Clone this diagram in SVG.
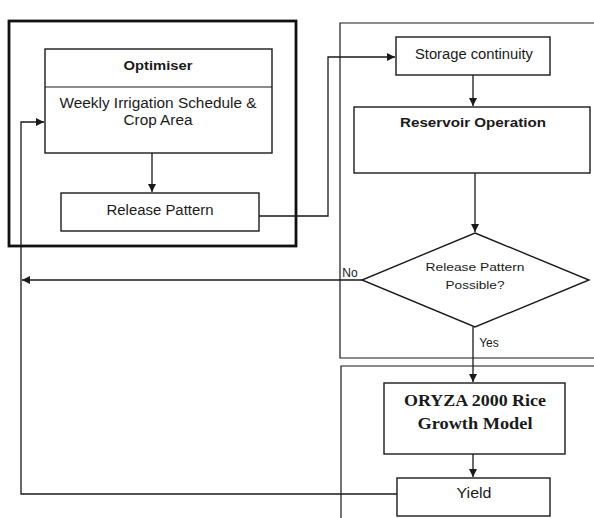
<svg xmlns="http://www.w3.org/2000/svg" width="594" height="518" viewBox="0 0 594 518">
  <style>
    .box { fill: #ffffff; stroke: #1a1a1a; stroke-width: 1.4; }
    .frame { fill: none; stroke: #1a1a1a; stroke-width: 1.2; }
    .thick { fill: none; stroke: #111111; stroke-width: 2.8; }
    .wire { fill: none; stroke: #1a1a1a; stroke-width: 1.3; }
    .t { font-family: "Liberation Sans", Arial, sans-serif; fill: #1a1a1a; text-anchor: middle; }
    .b { font-weight: bold; }
    .serif { font-family: "Liberation Serif", "Times New Roman", serif; }
  </style>
  <defs>
    <marker id="arrow" viewBox="0 0 10 10" refX="10" refY="5" markerWidth="8" markerHeight="8" markerUnits="userSpaceOnUse" orient="auto">
      <path d="M0,0 L10,5 L0,10 Z" fill="#1a1a1a"/>
    </marker>
  </defs>
  <rect width="594" height="518" fill="#ffffff"/>

  <!-- group frames -->
  <g id="frames">
    <rect class="thick" x="9" y="21" width="287" height="225"/>
    <path class="frame" d="M600,23 H340 V358 H600"/>
    <path class="frame" d="M600,366 H341 V520"/>
  </g>

  <!-- connectors -->
  <g id="connectors">
    <line class="wire" x1="152" y1="153" x2="152" y2="192" marker-end="url(#arrow)"/>
    <polyline class="wire" points="259,216 328,216 328,57 395,57" marker-end="url(#arrow)"/>
    <line class="wire" x1="473" y1="75" x2="473" y2="106" marker-end="url(#arrow)"/>
    <line class="wire" x1="475" y1="173" x2="475" y2="232" marker-end="url(#arrow)"/>
    <line class="wire" x1="362" y1="280" x2="22" y2="280" marker-end="url(#arrow)"/>
    <line class="wire" x1="473" y1="327" x2="473" y2="382" marker-end="url(#arrow)"/>
    <line class="wire" x1="473" y1="454" x2="473" y2="477" marker-end="url(#arrow)"/>
    <polyline class="wire" points="397,494 21,494 21,122 44,122" marker-end="url(#arrow)"/>
    <text class="t" x="350" y="277" font-size="12">No</text>
    <text class="t" x="489" y="347" font-size="12">Yes</text>
  </g>

  <g id="optimiser">
    <rect class="box" x="45" y="49" width="227" height="104"/>
    <line x1="45" y1="87" x2="272" y2="87" stroke="#1a1a1a" stroke-width="1.2"/>
    <text class="t b" x="158" y="70" font-size="13.5" textLength="69" lengthAdjust="spacingAndGlyphs">Optimiser</text>
    <text class="t" x="158" y="108" font-size="14" textLength="197" lengthAdjust="spacingAndGlyphs">Weekly Irrigation Schedule &amp;</text>
    <text class="t" x="158" y="125" font-size="14" textLength="69" lengthAdjust="spacingAndGlyphs">Crop Area</text>
  </g>

  <g id="release-pattern">
    <rect class="box" x="61" y="193" width="198" height="38"/>
    <text class="t" x="160" y="215" font-size="14" textLength="107" lengthAdjust="spacingAndGlyphs">Release Pattern</text>
  </g>

  <g id="storage-continuity">
    <rect class="box" x="396" y="37" width="154" height="38"/>
    <text class="t" x="474" y="59" font-size="14" textLength="118" lengthAdjust="spacingAndGlyphs">Storage continuity</text>
  </g>

  <g id="reservoir-operation">
    <rect class="box" x="354" y="107" width="236" height="66"/>
    <text class="t b" x="473" y="127" font-size="13.5" textLength="146" lengthAdjust="spacingAndGlyphs">Reservoir Operation</text>
  </g>

  <g id="decision">
    <polygon class="box" points="475,233 589,280 475,327 362,280"/>
    <text class="t" x="475" y="271" font-size="11.5" textLength="99" lengthAdjust="spacingAndGlyphs">Release Pattern</text>
    <text class="t" x="475" y="289" font-size="11.5" textLength="59" lengthAdjust="spacingAndGlyphs">Possible?</text>
  </g>

  <g id="oryza">
    <rect class="box" x="384" y="383" width="181" height="71"/>
    <text class="t serif b" x="475" y="406" font-size="16.5" textLength="142" lengthAdjust="spacingAndGlyphs">ORYZA 2000 Rice</text>
    <text class="t serif b" x="475" y="429" font-size="16.5" textLength="115" lengthAdjust="spacingAndGlyphs">Growth Model</text>
  </g>

  <g id="yield">
    <rect class="box" x="397" y="478" width="153" height="38"/>
    <text class="t" x="474" y="498" font-size="14" textLength="35" lengthAdjust="spacingAndGlyphs">Yield</text>
  </g>
</svg>
